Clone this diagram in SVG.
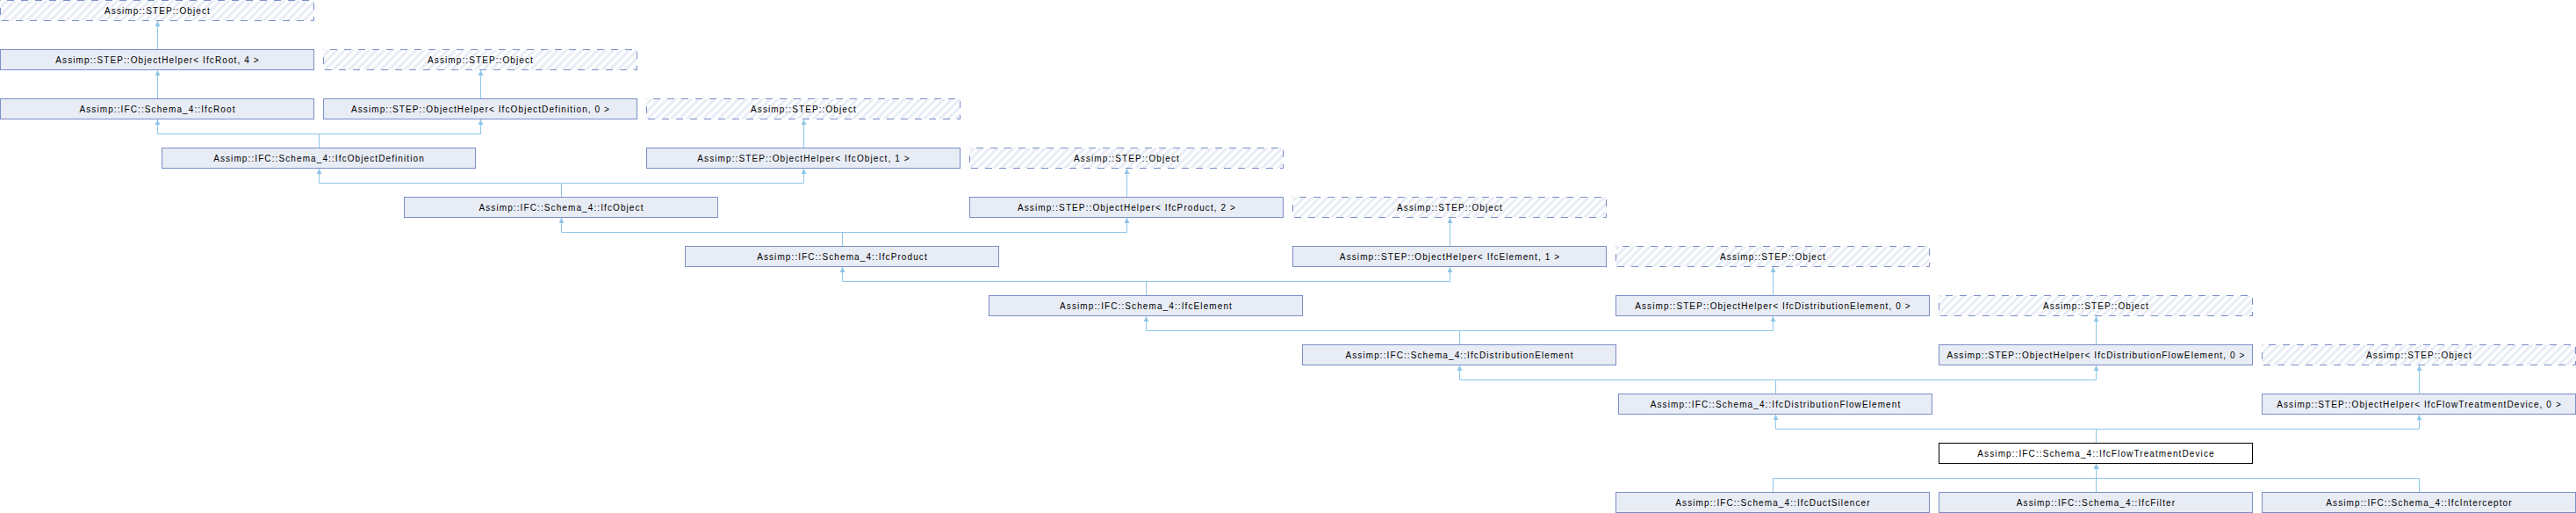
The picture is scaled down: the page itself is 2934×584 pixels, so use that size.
<svg xmlns="http://www.w3.org/2000/svg" width="2934" height="584" viewBox="0 0 2934 584">
<defs>
<pattern id="hatch" patternUnits="userSpaceOnUse" width="9" height="9">
<rect width="9" height="9" fill="#ffffff"/>
<path d="M-2.25,2.25 L2.25,-2.25 M0,9 L9,0 M6.75,11.25 L11.25,6.75" stroke="#E9EDF6" stroke-width="3.2"/>
</pattern>
<marker id="arr" markerUnits="userSpaceOnUse" markerWidth="6" markerHeight="6" viewBox="0 0 10 10" refX="10" refY="5" orient="auto">
<path d="M0,0 L10,5 L0,10 z" fill="#8FC6E8"/>
</marker>
<style>
.box{fill:#E8ECF5;stroke:#7B8EC8;stroke-width:1}
.ext{fill:url(#hatch);stroke:#7B8EC8;stroke-width:1;stroke-dasharray:8 8;stroke-dashoffset:8.5}
.cur{fill:#ffffff;stroke:#000000;stroke-width:1}
.lbl{font-family:"Liberation Sans",Arial,Helvetica,sans-serif;font-size:10px;letter-spacing:1.1px;fill:#000000;text-anchor:middle}
.edge{fill:none;stroke:#8FC6E8;stroke-width:1;marker-end:url(#arr)}
</style>
</defs>
<g id="connectors">
<path class="edge" d="M179.5,56 V24"/>
<path class="edge" d="M547.5,112 V80"/>
<path class="edge" d="M179.5,112 V80"/>
<path class="edge" d="M915.5,168 V136"/>
<path class="edge" d="M363.5,168 V152.5 H179.5 V136"/>
<path class="edge" d="M363.5,168 V152.5 H547.5 V136"/>
<path class="edge" d="M1283.5,224 V192"/>
<path class="edge" d="M639.5,224 V208.5 H363.5 V192"/>
<path class="edge" d="M639.5,224 V208.5 H915.5 V192"/>
<path class="edge" d="M1651.5,280 V248"/>
<path class="edge" d="M959.5,280 V264.5 H639.5 V248"/>
<path class="edge" d="M959.5,280 V264.5 H1283.5 V248"/>
<path class="edge" d="M2019.5,336 V304"/>
<path class="edge" d="M1305.5,336 V320.5 H959.5 V304"/>
<path class="edge" d="M1305.5,336 V320.5 H1651.5 V304"/>
<path class="edge" d="M2387.5,392 V360"/>
<path class="edge" d="M1662.5,392 V376.5 H1305.5 V360"/>
<path class="edge" d="M1662.5,392 V376.5 H2019.5 V360"/>
<path class="edge" d="M2755.5,448 V416"/>
<path class="edge" d="M2022.5,448 V432.5 H1662.5 V416"/>
<path class="edge" d="M2022.5,448 V432.5 H2387.5 V416"/>
<path class="edge" d="M2387.5,504 V488.5 H2022.5 V472"/>
<path class="edge" d="M2387.5,504 V488.5 H2755.5 V472"/>
<path class="edge" d="M2019.5,560 V544.5 H2387.5 V528"/>
<path class="edge" d="M2387.5,560 V528"/>
<path class="edge" d="M2755.5,560 V544.5 H2387.5 V528"/>
</g>
<g id="n0"><rect class="ext" x="0.5" y="0.5" width="357" height="23"/><text class="lbl" x="179.5" y="15.5">Assimp::STEP::Object</text></g>
<g id="n1"><rect class="box" x="0.5" y="56.5" width="357" height="23"/><text class="lbl" x="179.5" y="71.5">Assimp::STEP::ObjectHelper&lt; IfcRoot, 4 &gt;</text></g>
<g id="n2"><rect class="ext" x="368.5" y="56.5" width="357" height="23"/><text class="lbl" x="547.5" y="71.5">Assimp::STEP::Object</text></g>
<g id="n3"><rect class="box" x="0.5" y="112.5" width="357" height="23"/><text class="lbl" x="179.5" y="127.5">Assimp::IFC::Schema_4::IfcRoot</text></g>
<g id="n4"><rect class="box" x="368.5" y="112.5" width="357" height="23"/><text class="lbl" x="547.5" y="127.5">Assimp::STEP::ObjectHelper&lt; IfcObjectDefinition, 0 &gt;</text></g>
<g id="n5"><rect class="ext" x="736.5" y="112.5" width="357" height="23"/><text class="lbl" x="915.5" y="127.5">Assimp::STEP::Object</text></g>
<g id="n6"><rect class="box" x="184.5" y="168.5" width="357" height="23"/><text class="lbl" x="363.5" y="183.5">Assimp::IFC::Schema_4::IfcObjectDefinition</text></g>
<g id="n7"><rect class="box" x="736.5" y="168.5" width="357" height="23"/><text class="lbl" x="915.5" y="183.5">Assimp::STEP::ObjectHelper&lt; IfcObject, 1 &gt;</text></g>
<g id="n8"><rect class="ext" x="1104.5" y="168.5" width="357" height="23"/><text class="lbl" x="1283.5" y="183.5">Assimp::STEP::Object</text></g>
<g id="n9"><rect class="box" x="460.5" y="224.5" width="357" height="23"/><text class="lbl" x="639.5" y="239.5">Assimp::IFC::Schema_4::IfcObject</text></g>
<g id="n10"><rect class="box" x="1104.5" y="224.5" width="357" height="23"/><text class="lbl" x="1283.5" y="239.5">Assimp::STEP::ObjectHelper&lt; IfcProduct, 2 &gt;</text></g>
<g id="n11"><rect class="ext" x="1472.5" y="224.5" width="357" height="23"/><text class="lbl" x="1651.5" y="239.5">Assimp::STEP::Object</text></g>
<g id="n12"><rect class="box" x="780.5" y="280.5" width="357" height="23"/><text class="lbl" x="959.5" y="295.5">Assimp::IFC::Schema_4::IfcProduct</text></g>
<g id="n13"><rect class="box" x="1472.5" y="280.5" width="357" height="23"/><text class="lbl" x="1651.5" y="295.5">Assimp::STEP::ObjectHelper&lt; IfcElement, 1 &gt;</text></g>
<g id="n14"><rect class="ext" x="1840.5" y="280.5" width="357" height="23"/><text class="lbl" x="2019.5" y="295.5">Assimp::STEP::Object</text></g>
<g id="n15"><rect class="box" x="1126.5" y="336.5" width="357" height="23"/><text class="lbl" x="1305.5" y="351.5">Assimp::IFC::Schema_4::IfcElement</text></g>
<g id="n16"><rect class="box" x="1840.5" y="336.5" width="357" height="23"/><text class="lbl" x="2019.5" y="351.5">Assimp::STEP::ObjectHelper&lt; IfcDistributionElement, 0 &gt;</text></g>
<g id="n17"><rect class="ext" x="2208.5" y="336.5" width="357" height="23"/><text class="lbl" x="2387.5" y="351.5">Assimp::STEP::Object</text></g>
<g id="n18"><rect class="box" x="1483.5" y="392.5" width="357" height="23"/><text class="lbl" x="1662.5" y="407.5">Assimp::IFC::Schema_4::IfcDistributionElement</text></g>
<g id="n19"><rect class="box" x="2208.5" y="392.5" width="357" height="23"/><text class="lbl" x="2387.5" y="407.5">Assimp::STEP::ObjectHelper&lt; IfcDistributionFlowElement, 0 &gt;</text></g>
<g id="n20"><rect class="ext" x="2576.5" y="392.5" width="357" height="23"/><text class="lbl" x="2755.5" y="407.5">Assimp::STEP::Object</text></g>
<g id="n21"><rect class="box" x="1843.5" y="448.5" width="357" height="23"/><text class="lbl" x="2022.5" y="463.5">Assimp::IFC::Schema_4::IfcDistributionFlowElement</text></g>
<g id="n22"><rect class="box" x="2576.5" y="448.5" width="357" height="23"/><text class="lbl" x="2755.5" y="463.5">Assimp::STEP::ObjectHelper&lt; IfcFlowTreatmentDevice, 0 &gt;</text></g>
<g id="n23"><rect class="cur" x="2208.5" y="504.5" width="357" height="23"/><text class="lbl" x="2387.5" y="519.5">Assimp::IFC::Schema_4::IfcFlowTreatmentDevice</text></g>
<g id="n24"><rect class="box" x="1840.5" y="560.5" width="357" height="23"/><text class="lbl" x="2019.5" y="575.5">Assimp::IFC::Schema_4::IfcDuctSilencer</text></g>
<g id="n25"><rect class="box" x="2208.5" y="560.5" width="357" height="23"/><text class="lbl" x="2387.5" y="575.5">Assimp::IFC::Schema_4::IfcFilter</text></g>
<g id="n26"><rect class="box" x="2576.5" y="560.5" width="357" height="23"/><text class="lbl" x="2755.5" y="575.5">Assimp::IFC::Schema_4::IfcInterceptor</text></g>
</svg>
